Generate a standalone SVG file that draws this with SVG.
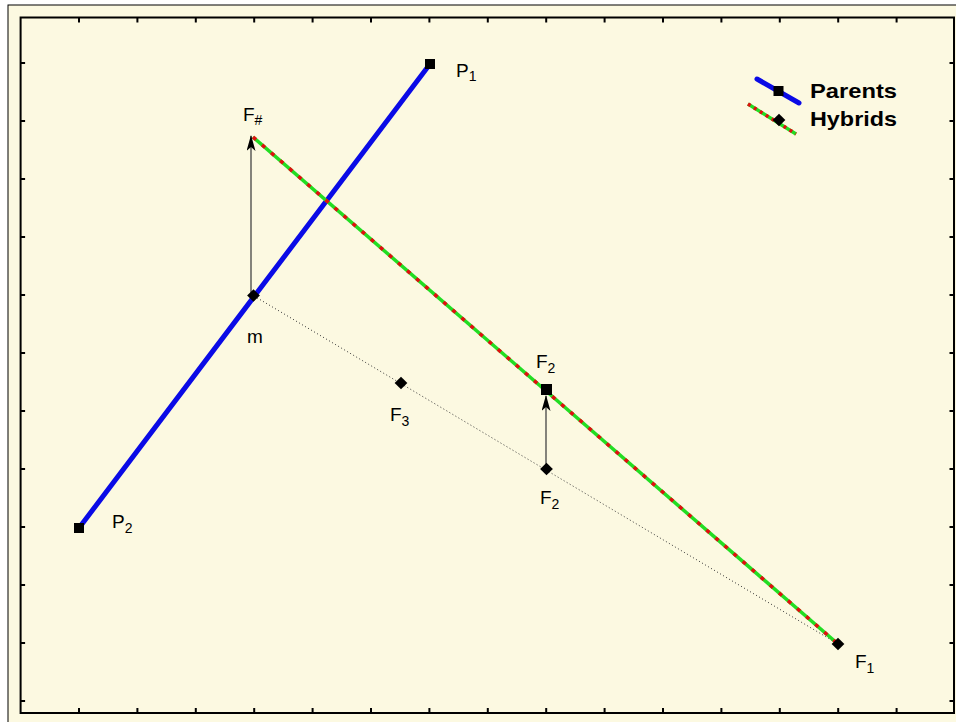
<svg xmlns="http://www.w3.org/2000/svg" width="956" height="722" viewBox="0 0 956 722">
  <style>
    .lbl { font-family: "Liberation Sans", Arial, sans-serif; font-size: 19px; fill: #000; }
    .sub { font-size: 14px; }
    .leg { font-family: "Liberation Sans", Arial, sans-serif; font-size: 21px; font-weight: bold; fill: #000; }
    .tick { stroke: #000; stroke-width: 2; }
    .parent { stroke: #0a0ae6; stroke-width: 5; stroke-linecap: round; fill: none; }
    .hybG { stroke: #22dd22; stroke-width: 3.5; fill: none; }
    .hybR { stroke: #e01010; stroke-width: 3.5; stroke-dasharray: 4 8; fill: none; }
    .dot { stroke: #333; stroke-width: 1; stroke-dasharray: 1 2.5; fill: none; }
    .arr { stroke: #444; stroke-width: 1.3; fill: none; }
    .mk { fill: #000; }
  </style>
  <defs>
    <marker id="ah" viewBox="0 0 16 9" refX="15" refY="4.5" markerWidth="16" markerHeight="9" markerUnits="userSpaceOnUse" orient="auto">
      <path d="M0,0 L16,4.5 L0,9 L4,4.5 Z" fill="#000"/>
    </marker>
  </defs>
  <rect x="0" y="0" width="956" height="722" fill="#ffffff"/>
  <rect x="8" y="5" width="960" height="730" fill="#fcf9e1" stroke="#000" stroke-width="1"/>
  <g id="frame">
    <rect x="20.6" y="17.5" width="933.4" height="695.5" fill="#fcf9e1" stroke="#000" stroke-width="2"/>
    <g class="tick">
      <path d="M79,17.5v5M137.4,17.5v5M195.8,17.5v5M254.2,17.5v5M312.6,17.5v5M371,17.5v5M429.4,17.5v5M487.8,17.5v5M546.2,17.5v5M604.6,17.5v5M663,17.5v5M721.4,17.5v5M779.8,17.5v5M838.2,17.5v5M896.6,17.5v5"/>
      <path d="M79,713v-5M137.4,713v-5M195.8,713v-5M254.2,713v-5M312.6,713v-5M371,713v-5M429.4,713v-5M487.8,713v-5M546.2,713v-5M604.6,713v-5M663,713v-5M721.4,713v-5M779.8,713v-5M838.2,713v-5M896.6,713v-5"/>
      <path d="M20.6,63h4.5M20.6,121h4.5M20.6,179h4.5M20.6,237h4.5M20.6,295h4.5M20.6,353h4.5M20.6,411h4.5M20.6,469h4.5M20.6,527h4.5M20.6,585h4.5M20.6,643h4.5M20.6,701h4.5"/>
      <path d="M954,63h-4.5M954,121h-4.5M954,179h-4.5M954,237h-4.5M954,295h-4.5M954,353h-4.5M954,411h-4.5M954,469h-4.5M954,527h-4.5M954,585h-4.5M954,643h-4.5M954,701h-4.5"/>
    </g>
  </g>
  <g id="connectors">
    <line class="dot" x1="254" y1="296" x2="838" y2="644"/>
    <line class="parent" x1="79" y1="528" x2="430" y2="64"/>
    <line class="hybG" x1="253" y1="137" x2="838" y2="644"/>
    <line class="hybR" x1="253" y1="137" x2="838" y2="644"/>
    <line class="arr" x1="251" y1="296" x2="251" y2="136" marker-end="url(#ah)"/>
    <line class="arr" x1="546" y1="469" x2="546" y2="396" marker-end="url(#ah)"/>
  </g>
  <g id="P1">
    <rect class="mk" x="425" y="59" width="10" height="10"/>
    <text class="lbl" x="456" y="77">P<tspan class="sub" dy="4">1</tspan></text>
  </g>
  <g id="P2">
    <rect class="mk" x="74" y="523" width="10" height="10"/>
    <text class="lbl" x="112" y="528">P<tspan class="sub" dy="5">2</tspan></text>
  </g>
  <g id="m">
    <rect class="mk" x="249" y="291" width="9" height="9" transform="rotate(45 253.5 295.5)"/>
    <text class="lbl" x="247" y="343">m</text>
  </g>
  <g id="Fhash">
    <text class="lbl" x="243" y="121">F<tspan class="sub" dy="4">#</tspan></text>
  </g>
  <g id="F2upper">
    <rect class="mk" x="541" y="384" width="11" height="11"/>
    <text class="lbl" x="536" y="368">F<tspan class="sub" dy="5">2</tspan></text>
  </g>
  <g id="F2lower">
    <rect class="mk" x="542" y="464.5" width="9" height="9" transform="rotate(45 546.5 469)"/>
    <text class="lbl" x="540" y="504">F<tspan class="sub" dy="5">2</tspan></text>
  </g>
  <g id="F3">
    <rect class="mk" x="396.5" y="378.5" width="9" height="9" transform="rotate(45 401 383)"/>
    <text class="lbl" x="390" y="421">F<tspan class="sub" dy="5">3</tspan></text>
  </g>
  <g id="F1">
    <rect class="mk" x="833.5" y="639.5" width="9" height="9" transform="rotate(45 838 644)"/>
    <text class="lbl" x="855" y="668">F<tspan class="sub" dy="5">1</tspan></text>
  </g>
  <g id="legend">
    <line class="parent" x1="757" y1="79" x2="799" y2="103"/>
    <rect class="mk" x="773.5" y="86" width="10" height="10"/>
    <text class="leg" x="810" y="98" textLength="87" lengthAdjust="spacingAndGlyphs">Parents</text>
    <line class="hybG" x1="748" y1="104" x2="796" y2="134"/>
    <line class="hybR" x1="748" y1="104" x2="796" y2="134" style="stroke-dasharray:3 4"/>
    <rect class="mk" x="774.5" y="115.5" width="9" height="9" transform="rotate(45 779 120)"/>
    <text class="leg" x="810" y="126" textLength="87" lengthAdjust="spacingAndGlyphs">Hybrids</text>
  </g>
</svg>
